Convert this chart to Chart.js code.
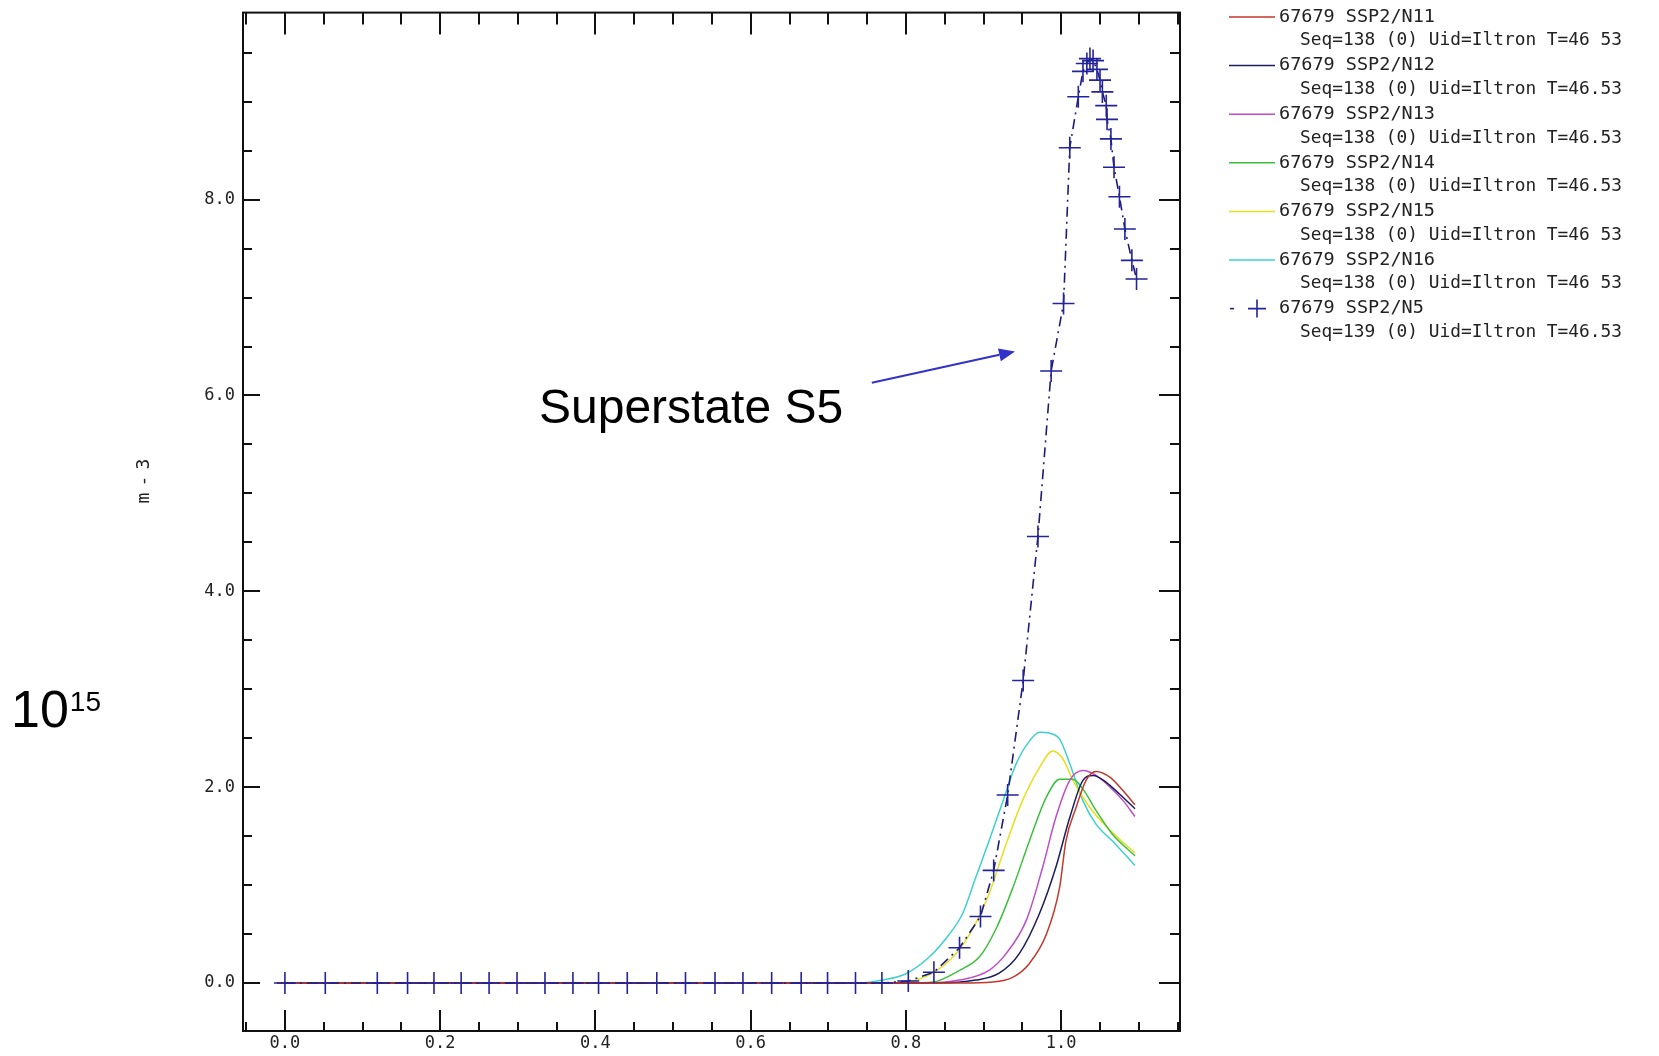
<!DOCTYPE html>
<html>
<head>
<meta charset="utf-8">
<script src="https://cdn.jsdelivr.net/npm/chart.js@4/dist/chart.umd.min.js"></script>
<style>
html,body{margin:0;padding:0;background:#fff;}
canvas{display:block;}
</style>
</head>
<body>
<canvas id="c" width="1659" height="1056"></canvas>
<script>
// ---------- data ----------
const seriesNames = ['67679 SSP2/N11','67679 SSP2/N12','67679 SSP2/N13','67679 SSP2/N14','67679 SSP2/N15','67679 SSP2/N16','67679 SSP2/N5'];
const seriesSubNames = [
  'Seq=138 (0) Uid=Iltron T=46 53',
  'Seq=138 (0) Uid=Iltron T=46.53',
  'Seq=138 (0) Uid=Iltron T=46.53',
  'Seq=138 (0) Uid=Iltron T=46.53',
  'Seq=138 (0) Uid=Iltron T=46 53',
  'Seq=138 (0) Uid=Iltron T=46 53',
  'Seq=139 (0) Uid=Iltron T=46.53'
];
const seriesColors = ['#c0392b','#1c1c5e','#c04cc8','#3cc03c','#e6df1e','#3ed0d0','#1c1c78'];

const xN11 = [-0.01, 0.87, 0.912, 0.938, 0.959, 0.981, 0.998, 1.006, 1.019, 1.032, 1.045, 1.063, 1.080, 1.095];
const yN11 = [0, 0, 0.01, 0.06, 0.20, 0.50, 0.98, 1.45, 1.79, 2.07, 2.16, 2.10, 1.96, 1.82];

const xN12 = [-0.01, 0.84, 0.890, 0.920, 0.946, 0.972, 0.993, 1.011, 1.028, 1.041, 1.058, 1.075, 1.095];
const yN12 = [0, 0, 0.03, 0.10, 0.30, 0.71, 1.18, 1.69, 2.07, 2.12, 2.05, 1.93, 1.78];

const xN13 = [-0.01, 0.82, 0.869, 0.907, 0.929, 0.955, 0.976, 0.993, 1.011, 1.028, 1.045, 1.063, 1.080, 1.095];
const yN13 = [0, 0, 0.03, 0.13, 0.30, 0.64, 1.18, 1.69, 2.07, 2.17, 2.12, 2.00, 1.86, 1.70];

const xN14 = [-0.01, 0.80, 0.835, 0.869, 0.895, 0.917, 0.938, 0.959, 0.981, 0.998, 1.015, 1.028, 1.045, 1.066, 1.095];
const yN14 = [0, 0, 0.01, 0.13, 0.27, 0.57, 0.98, 1.45, 1.90, 2.08, 2.08, 1.98, 1.76, 1.52, 1.30];

const xN15 = [-0.01, 0.78, 0.814, 0.856, 0.882, 0.907, 0.929, 0.950, 0.972, 0.989, 1.002, 1.015, 1.037, 1.063, 1.095];
const yN15 = [0, 0, 0.03, 0.23, 0.50, 0.91, 1.42, 1.86, 2.20, 2.37, 2.29, 2.07, 1.79, 1.56, 1.33];

const xN16 = [-0.01, 0.74, 0.77, 0.80, 0.83, 0.856, 0.873, 0.890, 0.907, 0.925, 0.942, 0.959, 0.972, 0.985, 0.998, 1.011, 1.028, 1.045, 1.066, 1.095];
const yN16 = [0, 0, 0.03, 0.095, 0.265, 0.50, 0.71, 1.08, 1.45, 1.86, 2.24, 2.47, 2.56, 2.55, 2.49, 2.24, 1.86, 1.62, 1.45, 1.20];

const xN5 = [0.000, 0.052, 0.119, 0.158, 0.192, 0.227, 0.263, 0.299, 0.335, 0.371, 0.404, 0.441, 0.479, 0.516, 0.554, 0.590, 0.627, 0.665, 0.699, 0.735, 0.769, 0.803, 0.836, 0.869, 0.896, 0.913, 0.931, 0.951, 0.970, 0.987, 1.003, 1.011, 1.022, 1.028, 1.033, 1.037, 1.041, 1.046, 1.050, 1.053, 1.058, 1.059, 1.064, 1.068, 1.075, 1.082, 1.091, 1.097];
const yN5 = [0, 0, 0, 0, 0, 0, 0, 0, 0, 0, 0, 0, 0, 0, 0, 0, 0, 0, 0, 0, 0, 0.02, 0.11, 0.36, 0.68, 1.15, 1.92, 3.09, 4.56, 6.25, 6.94, 8.53, 9.05, 9.31, 9.39, 9.44, 9.42, 9.33, 9.22, 9.10, 8.96, 8.82, 8.62, 8.33, 8.03, 7.70, 7.38, 7.19];

const xTickValues = [0.0, 0.2, 0.4, 0.6, 0.8, 1.0];
const yTickValues = [0.0, 2.0, 4.0, 6.0, 8.0];
const xTickLabels = ['0.0','0.2','0.4','0.6','0.8','1.0'];
const yTickLabels = ['0.0','2.0','4.0','6.0','8.0'];
const yAxisTitle = 'm-3';
const unitLabel = '10';
const unitExp = '15';
const annotationText = 'Superstate S5';
const arrowFrom = [0.756, 6.13];
const arrowTo = [0.9405, 6.45];

// ---------- build ----------
const xs = [xN11, xN12, xN13, xN14, xN15, xN16, xN5];
const ys = [yN11, yN12, yN13, yN14, yN15, yN16, yN5];
const pts = (a, b) => a.map((v, i) => ({x: v, y: b[i]}));

const datasets = seriesNames.map((name, i) => {
  const isN5 = i === 6;
  return {
    label: name,
    data: pts(xs[i], ys[i]),
    borderColor: seriesColors[i],
    backgroundColor: seriesColors[i],
    borderWidth: isN5 ? 1.6 : 1.5,
    borderDash: isN5 ? [10, 5, 2, 5] : [],
    pointStyle: 'cross',
    pointRadius: isN5 ? 11 : 0,
    pointBorderWidth: 1.6,
    pointBorderColor: isN5 ? '#23239a' : seriesColors[i],
    cubicInterpolationMode: isN5 ? 'default' : 'monotone',
    tension: isN5 ? 0 : 0.4,
    order: isN5 ? 0 : i + 1
  };
});

const FONT_MONO = '"DejaVu Sans Mono", "Liberation Mono", monospace';
const FONT_SANS = '"Liberation Sans", Arial, sans-serif';

const overlay = {
  id: 'overlay',
  afterDraw(chart) {
    const {ctx, chartArea: a, scales: {x, y}} = chart;
    ctx.save();
    // frame
    ctx.strokeStyle = '#111';
    ctx.lineWidth = 2;
    ctx.strokeRect(a.left, a.top, a.right - a.left, a.bottom - a.top);
    // x ticks (inward, bottom and top)
    const xStep = 0.05, xMajor = 0.2;
    ctx.beginPath();
    for (let k = Math.ceil(x.min / xStep - 1e-6); k * xStep <= x.max + 1e-9; k++) {
      const v = k * xStep;
      const major = Math.abs(v / xMajor - Math.round(v / xMajor)) < 1e-6;
      const px = Math.round(x.getPixelForValue(v));
      ctx.moveTo(px, a.bottom); ctx.lineTo(px, a.bottom - (major ? 21 : 9));
      ctx.moveTo(px, a.top); ctx.lineTo(px, a.top + (major ? 22 : 12));
    }
    // y ticks (inward, left and right)
    const yStep = 0.5, yMajor = 2;
    for (let k = Math.ceil(y.min / yStep - 1e-6); k * yStep <= y.max + 1e-9; k++) {
      const v = k * yStep;
      const major = Math.abs(v / yMajor - Math.round(v / yMajor)) < 1e-6;
      const py = Math.round(y.getPixelForValue(v));
      ctx.moveTo(a.left, py); ctx.lineTo(a.left + (major ? 17 : 9), py);
      ctx.moveTo(a.right, py); ctx.lineTo(a.right - (major ? 21 : 10), py);
    }
    ctx.stroke();

    // y axis title (spaced characters, rotated)
    ctx.fillStyle = '#222';
    ctx.font = '18px ' + FONT_MONO;
    ctx.textAlign = 'center';
    ctx.textBaseline = 'middle';
    ctx.save();
    ctx.translate(144, 481);
    ctx.rotate(-Math.PI / 2);
    const chars = yAxisTitle.split('');
    chars.forEach((c, k) => ctx.fillText(c, (k - (chars.length - 1) / 2) * 17, 0));
    ctx.restore();

    // 10^15 unit label
    ctx.fillStyle = '#000';
    ctx.textAlign = 'left';
    ctx.textBaseline = 'alphabetic';
    ctx.font = '52px ' + FONT_SANS;
    ctx.fillText(unitLabel, 11, 727);
    const w10 = ctx.measureText(unitLabel).width;
    ctx.font = '28px ' + FONT_SANS;
    ctx.fillText(unitExp, 11 + w10 + 1, 711);

    // annotation
    ctx.font = '48px ' + FONT_SANS;
    ctx.fillText(annotationText, 539, 423);
    const x0 = x.getPixelForValue(arrowFrom[0]), y0 = y.getPixelForValue(arrowFrom[1]);
    const x1 = x.getPixelForValue(arrowTo[0]), y1 = y.getPixelForValue(arrowTo[1]);
    const ang = Math.atan2(y1 - y0, x1 - x0);
    const L = 16, W = 6.5;
    ctx.strokeStyle = '#3232c8';
    ctx.fillStyle = '#3232c8';
    ctx.lineWidth = 2;
    ctx.beginPath();
    ctx.moveTo(x0, y0);
    ctx.lineTo(x1 - L * Math.cos(ang), y1 - L * Math.sin(ang));
    ctx.stroke();
    ctx.beginPath();
    ctx.moveTo(x1, y1);
    ctx.lineTo(x1 - L * Math.cos(ang) + W * Math.sin(ang), y1 - L * Math.sin(ang) - W * Math.cos(ang));
    ctx.lineTo(x1 - L * Math.cos(ang) - W * Math.sin(ang), y1 - L * Math.sin(ang) + W * Math.cos(ang));
    ctx.closePath();
    ctx.fill();

    // legend
    const lx0 = 1229, lx1 = 1275, tx = 1279, tx2 = 1300, top = 17, step = 48.6, sub = 23.5;
    ctx.font = '18.5px ' + FONT_MONO;
    ctx.textBaseline = 'middle';
    ctx.textAlign = 'left';
    chart.data.datasets.forEach((ds, i) => {
      const yy = top + i * step;
      ctx.strokeStyle = ds.borderColor;
      ctx.lineWidth = 1.5;
      if (i === 6) {
        ctx.beginPath();
        ctx.moveTo(lx0 + 1, yy); ctx.lineTo(lx0 + 5, yy);
        ctx.stroke();
        ctx.strokeStyle = ds.pointBorderColor;
        ctx.lineWidth = 1.6;
        ctx.beginPath();
        ctx.moveTo(1257 - 9, yy); ctx.lineTo(1257 + 9, yy);
        ctx.moveTo(1257, yy - 9); ctx.lineTo(1257, yy + 9);
        ctx.stroke();
      } else {
        ctx.beginPath();
        ctx.moveTo(lx0, yy); ctx.lineTo(lx1, yy);
        ctx.stroke();
      }
      ctx.fillStyle = '#222';
      ctx.fillText(ds.label, tx, yy);
      ctx.fillText(seriesSubNames[i], tx2, yy + sub, 322);
    });
    ctx.restore();
  }
};

new Chart(document.getElementById('c'), {
  type: 'line',
  data: { datasets },
  options: {
    responsive: false,
    animation: false,
    events: [],
    layout: { padding: { left: 0, top: 8, right: 479, bottom: 0 } },
    plugins: { legend: { display: false }, tooltip: { enabled: false } },
    scales: {
      x: {
        type: 'linear',
        min: -0.054,
        max: 1.153,
        afterFit: s => { s.height = 25; s.paddingLeft = 0; s.paddingRight = 0; },
        afterBuildTicks: s => { s.ticks = xTickValues.map(v => ({ value: v })); },
        ticks: {
          autoSkip: false,
          maxRotation: 0,
          padding: 2,
          color: '#222',
          font: { family: FONT_MONO, size: 17 },
          callback: (v) => { const i = xTickValues.findIndex(t => Math.abs(t - v) < 1e-6); return i >= 0 ? xTickLabels[i] : ''; }
        },
        grid: { display: false, drawTicks: false },
        border: { display: false }
      },
      y: {
        type: 'linear',
        min: -0.49,
        max: 9.91,
        afterFit: s => { s.width = 243; s.paddingTop = 0; s.paddingBottom = 0; },
        afterBuildTicks: s => { s.ticks = yTickValues.map(v => ({ value: v })); },
        ticks: {
          autoSkip: false,
          padding: 8,
          color: '#222',
          font: { family: FONT_MONO, size: 17 },
          callback: (v) => { const i = yTickValues.findIndex(t => Math.abs(t - v) < 1e-6); return i >= 0 ? yTickLabels[i] : ''; }
        },
        grid: { display: false, drawTicks: false },
        border: { display: false }
      }
    }
  },
  plugins: [overlay]
});
</script>
</body>
</html>
